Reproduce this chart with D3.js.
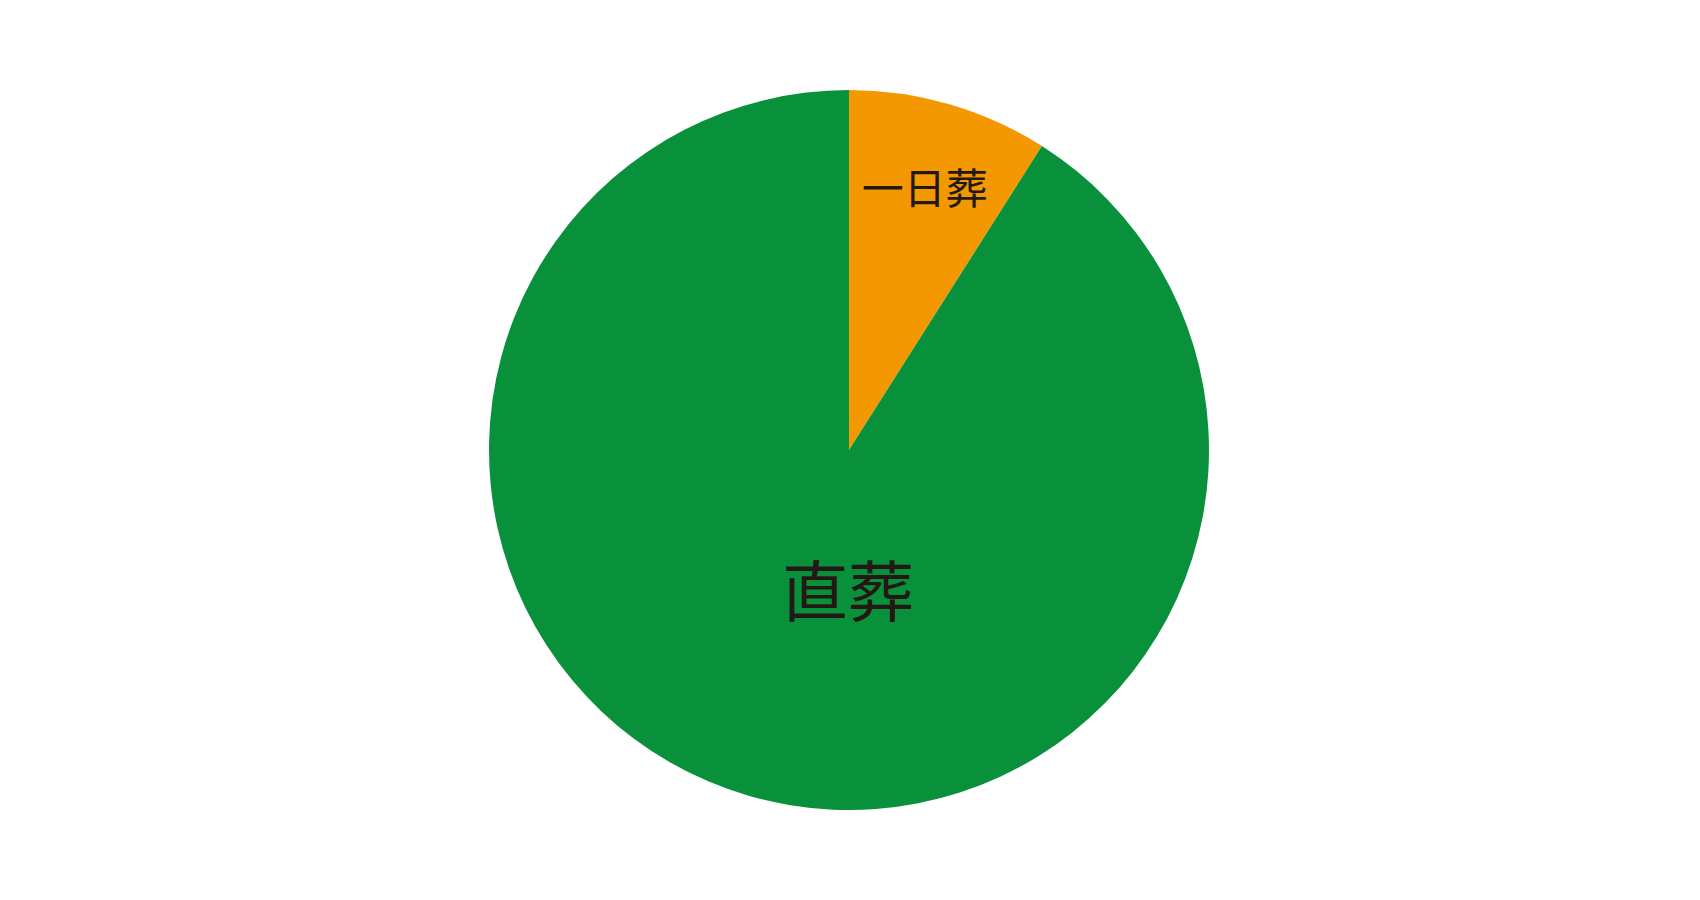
<!DOCTYPE html>
<html>
<head>
  <meta charset="UTF-8">
  <title>葬儀の形式</title>
  <script src="https://d3js.org/d3.v7.min.js"></script>
  <style>
    html, body { margin: 0; padding: 0; background: #ffffff; }
  </style>
</head>
<body>
  <div id="chart"></div>
  <script>
    // slice data
    const categories = ["一日葬", "直葬"];
    const values = [9, 91];
    const colors = ["#f39800", "#08913a"];

    const width = 1700;
    const height = 900;
    const cx = 849;
    const cy = 450;
    const radius = 360;

    const svg = d3.select("#chart")
      .append("svg")
      .attr("width", width)
      .attr("height", height);

    const g = svg.append("g")
      .attr("transform", "translate(" + cx + "," + cy + ")");

    const data = categories.map((c, i) => ({ category: c, value: values[i], color: colors[i] }));

    const pie = d3.pie()
      .value(d => d.value)
      .sort(null);

    const arc = d3.arc()
      .innerRadius(0)
      .outerRadius(radius);

    const arcs = pie(data);

    g.selectAll("path")
      .data(arcs)
      .enter()
      .append("path")
      .attr("d", arc)
      .attr("fill", d => d.data.color);

    // small slice: label near the rim; big slice: label below the centre
    const labelArc = d3.arc()
      .innerRadius(radius * 0.765)
      .outerRadius(radius * 0.765);

    g.selectAll("text")
      .data(arcs)
      .enter()
      .append("text")
      .attr("transform", d => {
        if (d.data.value < 50) {
          const p = labelArc.centroid(d);
          return "translate(" + (p[0] - 1) + "," + p[1] + ")";
        }
        return "translate(-1," + (radius * 0.38) + ")";
      })
      .attr("text-anchor", "middle")
      .attr("dominant-baseline", "central")
      .style("font-family", "'Noto Sans CJK JP', sans-serif")
      .style("font-size", d => d.data.value < 50 ? "42px" : "66px")
      .style("fill", "#231815")
      .text(d => d.data.category);
  </script>
</body>
</html>
